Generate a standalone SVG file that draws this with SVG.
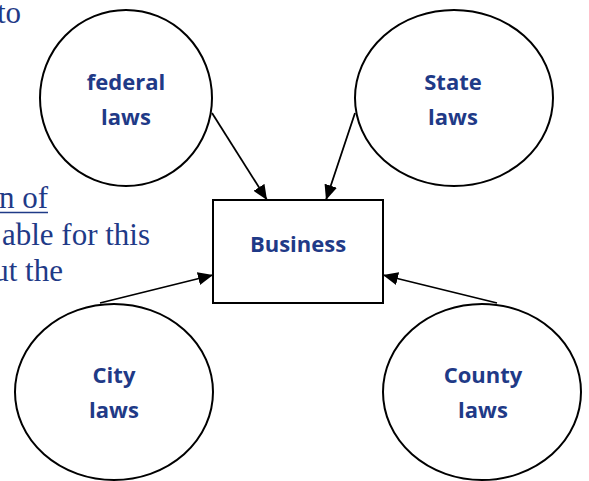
<svg xmlns="http://www.w3.org/2000/svg" width="589" height="481" viewBox="0 0 589 481">
<style>
.node{fill:#fff;stroke:#000;stroke-width:2}
.lbl{font-family:"Open Sans","Noto Sans",sans-serif;font-weight:700;font-size:22px;fill:#1F3A87;text-anchor:middle}
.bg{font-family:"Liberation Serif","Times New Roman",serif;font-size:31px;fill:#1F3A87}
.conn{stroke:#000;stroke-width:1.8;fill:none;marker-end:url(#ah)}
</style>
<defs>
<marker id="ah" markerUnits="userSpaceOnUse" markerWidth="16" markerHeight="14" refX="15" refY="6.5" orient="auto">
<path d="M0,0 L15,6.5 L0,13 z" fill="#000"/>
</marker>
</defs>
<rect width="589" height="481" fill="#fff"/>
<g id="background-text">
<text class="bg" x="21" y="23" text-anchor="end">to</text>
<text class="bg" x="48" y="208" text-anchor="end">n of</text>
<line x1="0" y1="212.5" x2="48" y2="212.5" stroke="#1F3A87" stroke-width="1.5"/>
<text class="bg" x="150" y="245" text-anchor="end">able for this</text>
<text class="bg" x="63" y="281" text-anchor="end">ut the</text>
</g>
<g id="federal">
<ellipse class="node" cx="126" cy="98" rx="86" ry="88"/>
<text class="lbl" x="126" y="90">federal</text>
<text class="lbl" x="126" y="125">laws</text>
</g>
<g id="state">
<ellipse class="node" cx="454" cy="98" rx="99" ry="88"/>
<text class="lbl" x="453" y="90">State</text>
<text class="lbl" x="453" y="125">laws</text>
</g>
<g id="business">
<rect class="node" x="213" y="200" width="170" height="103"/>
<text class="lbl" x="298" y="252">Business</text>
</g>
<g id="city">
<ellipse class="node" cx="114" cy="392" rx="99" ry="88"/>
<text class="lbl" x="114" y="383">City</text>
<text class="lbl" x="114" y="418">laws</text>
</g>
<g id="county">
<ellipse class="node" cx="482" cy="392" rx="99" ry="88"/>
<text class="lbl" x="483" y="383">County</text>
<text class="lbl" x="483" y="418">laws</text>
</g>
<g id="connectors">
<line class="conn" x1="212" y1="113" x2="267" y2="200"/>
<line class="conn" x1="355" y1="113" x2="326" y2="200"/>
<line class="conn" x1="100" y1="303" x2="213" y2="275"/>
<line class="conn" x1="497" y1="303" x2="383" y2="275"/>
</g>
</svg>
